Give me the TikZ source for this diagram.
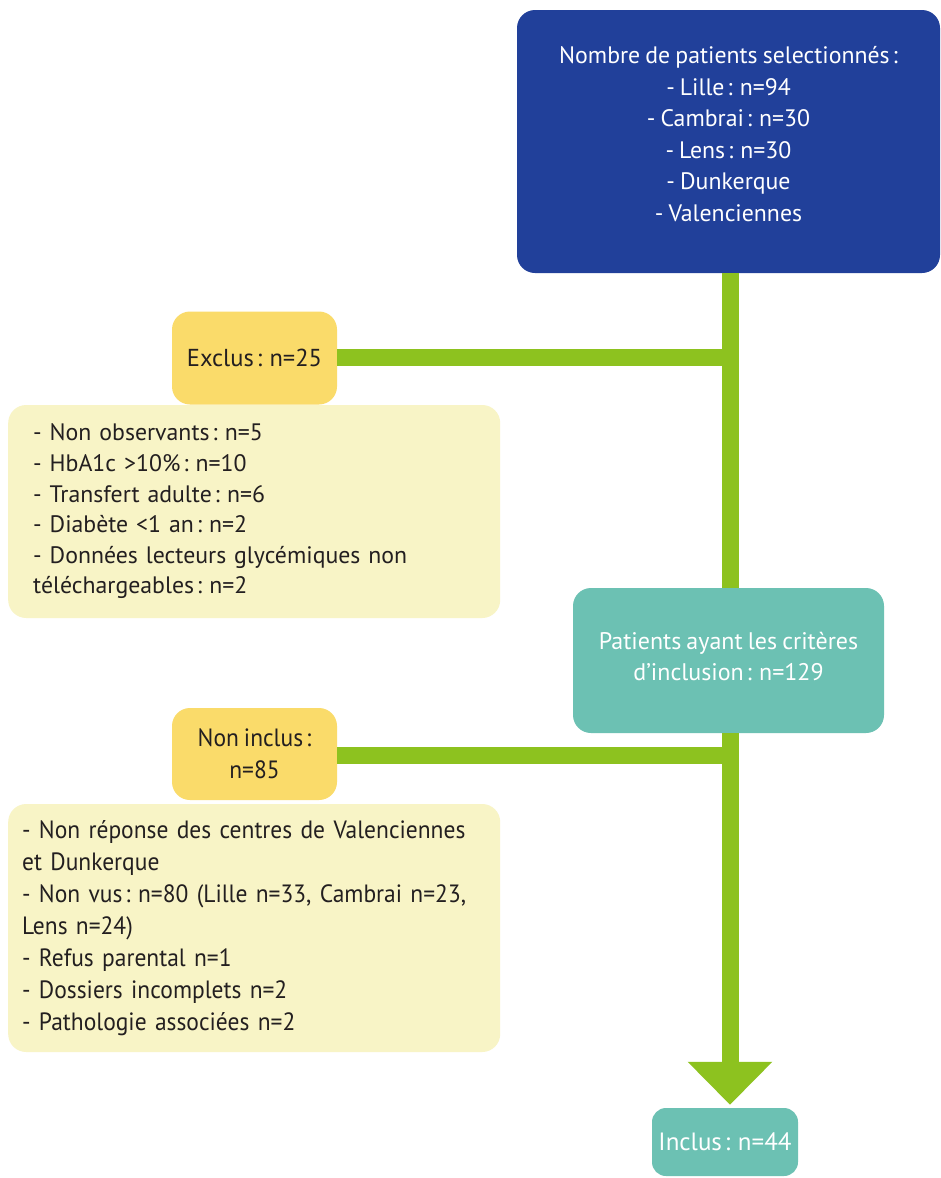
\documentclass[tikz,border=0pt]{standalone}
\usepackage{fontspec}
\setmainfont[WordSpace=0.8]{PT Sans}
\newfontfamily\condfont[FakeStretch=0.94,WordSpace=0.8]{PT Sans}
\usetikzlibrary{arrows.meta}
\newcommand\mycolon{\hspace{0.12em}:\hspace{0.3em}}
\definecolor{dblue}{HTML}{21409A}
\definecolor{lgreen}{HTML}{8DC21F}
\definecolor{ybox}{HTML}{FADB6A}
\definecolor{lybox}{HTML}{F8F4C6}
\definecolor{teal}{HTML}{6CC1B3}
\definecolor{dtext}{HTML}{231F20}
\tikzset{
  box/.style={rounded corners=18pt, inner sep=0pt, draw=none},
  bluebox/.style={box, fill=dblue},
  yelbox/.style={box, fill=ybox, text=dtext, align=center, font=\fontsize{24.5}{31}\selectfont},
  detailbox/.style={box, fill=lybox, text=dtext, align=left, anchor=west},
  tealbox/.style={box, fill=teal, text=white, align=center, font=\fontsize{24}{31}\selectfont},
  whitetext/.style={text=white, align=center, inner sep=0pt, font=\fontsize{23.8}{31.5}\selectfont},
  link/.style={draw=lgreen, line width=17pt, line cap=butt},
}
\begin{document}
\begin{tikzpicture}[x=1pt,y=-1pt]
\useasboundingbox[fill=white] (0,0) rectangle (941,1178);

% top box
\node[bluebox, minimum width=423pt, minimum height=263pt] (sel) at (728.5,141.5) {};
\node[whitetext] (seltext) at (728.5,134) {Nombre de patients selectionnés\hspace{0.12em}:\\- Lille\mycolon n=94\\- Cambrai\mycolon n=30\\- Lens\mycolon n=30\\- Dunkerque\\- Valenciennes};

% exclus
\node[yelbox, minimum width=165pt, minimum height=93pt] (excl) at (254.5,358) {Exclus\mycolon n=25};
\node[detailbox, minimum height=213pt, inner xsep=25pt, text width=442pt,
      font=\fontsize{23.8}{30.6}\selectfont] (excld) at (8,511.5)
  {- Non observants\mycolon n=5\\- HbA1c >10\%\mycolon n=10\\- Transfert adulte\mycolon n=6\\- Diabète <1 an\mycolon n=2\\- Données lecteurs glycémiques non\\téléchargeables\mycolon n=2};

% criteria
\node[tealbox, minimum width=311pt, minimum height=145pt] (crit) at (728.5,660.5) {};
\node[text=white, align=center, inner sep=0pt, font=\fontsize{24}{31}\selectfont] (crittext) at (728.5,656) {Patients ayant les critères\\d’inclusion\mycolon n=129};

% non inclus
\node[yelbox, minimum width=165pt, minimum height=92pt, font=\condfont\fontsize{25}{32}\selectfont] (nonin) at (254.5,754) {Non inclus\hspace{0.12em}:\\n=85};
\node[detailbox, minimum height=248pt, inner xsep=14pt, text width=464pt,
      font=\condfont\fontsize{25}{32}\selectfont] (nonind) at (8,928)
  {- Non réponse des centres de Valenciennes\\et Dunkerque\\- Non vus\mycolon n=80 (Lille n=33, Cambrai n=23,\\Lens n=24)\\- Refus parental n=1\\- Dossiers incomplets n=2\\- Pathologie associées n=2};

% inclus
\node[tealbox, rounded corners=14pt, minimum width=146pt, minimum height=68pt, font=\fontsize{25}{31}\selectfont] (incl) at (725,1142) {Inclus\mycolon n=44};

% connectors
\coordinate (j1) at (730,357);
\coordinate (j2) at (730,755);
\draw[link] (sel.south -| j1) -- (crit.north -| j1);
\draw[link] (excl.east |- j1) -- (j1);
\draw[link] (nonin.east |- j2) -- (j2);
\draw[link, -{Triangle[width=82pt,length=43pt]}, shorten >=3pt] (crit.south -| j1) -- (incl.north -| j1);
\end{tikzpicture}
\end{document}
